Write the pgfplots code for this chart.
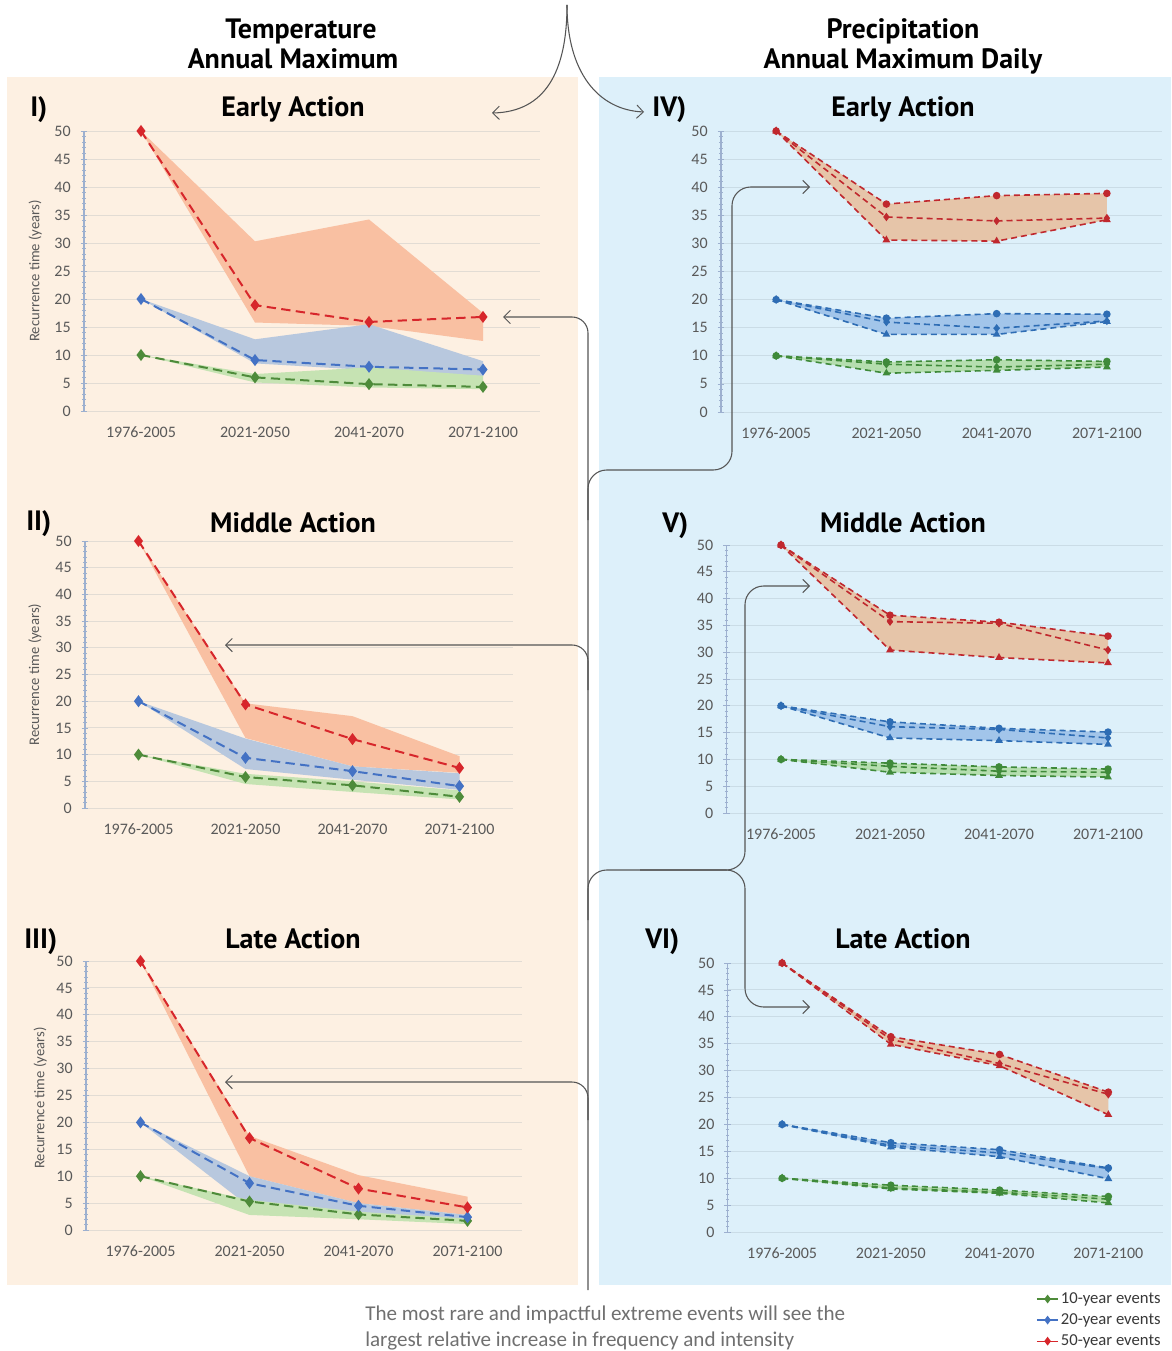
\documentclass[border=0pt]{standalone}
\usepackage{pgfplots}
\pgfplotsset{compat=1.18}
\usepackage{fontspec}
\setmainfont{Carlito}
\newfontfamily\hfont{PT Sans}
\usetikzlibrary{arrows.meta}

\definecolor{peachbg}{HTML}{FDF0E2}
\definecolor{bluebg}{HTML}{DDF0FA}
\definecolor{tickc}{HTML}{595959}
\definecolor{axisc}{HTML}{9DB0CF}
\definecolor{gridT}{HTML}{E2DCD4}
\definecolor{gridP}{HTML}{CADCE6}
\definecolor{tredc}{HTML}{D7262B}
\definecolor{tbluec}{HTML}{4472C4}
\definecolor{tgreenc}{HTML}{4E8B3A}
\definecolor{redfillT}{HTML}{F9C0A2}
\definecolor{bluefillT}{HTML}{B8C8DE}
\definecolor{greenfillT}{HTML}{C6E3B3}
\definecolor{predc}{HTML}{C0282E}
\definecolor{pbluec}{HTML}{2E6DB4}
\definecolor{pgreenc}{HTML}{3F8A3A}
\definecolor{redfillP}{HTML}{E6C5A9}
\definecolor{bluefillP}{HTML}{A2C5EA}
\definecolor{greenfillP}{HTML}{B5DEAF}
\definecolor{arrowc}{HTML}{555555}
\definecolor{legc}{HTML}{383838}
\definecolor{notec}{HTML}{707070}

\pgfplotsset{
  panel/.style={scale only axis, anchor=south west,
    xmin=-0.5, xmax=3.5, ymin=0, ymax=50, clip=false,
    axis lines*=left, x axis line style={draw=none},
    y axis line style={draw=axisc, line width=0.8pt},
    xtick={0,1,2,3}, xticklabels={1976-2005,2021-2050,2041-2070,2071-2100},
    ytick={0,5,...,50}, minor y tick num=4,
    ymajorgrids, major grid style={draw=#1, line width=0.7pt},
    tick align=center, major tick length=5pt, minor tick length=2.5pt,
    tick style={draw=axisc, line width=0.5pt}, xtick style={draw=none},
    tick label style={font=\fontsize{12}{14}\selectfont, text=tickc},
    /pgf/number format/assume math mode=true,
    xticklabel style={yshift=-6pt},
    yticklabel style={xshift=-4pt},
    ylabel style={font=\fontsize{11}{13}\selectfont, text=tickc, anchor=center},
  },
  tline/.style={draw=#1, line width=1.5pt, dash pattern=on 7pt off 4pt,
    mark=diamond*, mark size=3.3pt, mark options={solid, fill=#1, draw=#1}},
  pline/.style n args={2}{draw=#1, line width=1.2pt, dash pattern=on 4.5pt off 3pt,
    mark=#2, mark size=2.2pt, mark options={solid, fill=#1, draw=#1}},
}

\begin{document}
\begin{tikzpicture}
\begin{scope}[x=0.75pt,y=-0.75pt]
\fill[white] (0,0) rectangle (1171,1351);
\fill[peachbg] (7,77) rectangle (578,1285);
\fill[bluebg] (599,77) rectangle (1171,1285);
\tikzset{ttl/.style={font=\hfont\bfseries\fontsize{21}{25}\selectfont, text=black, inner sep=0pt, anchor=base}}
\node[ttl] at (301,39) {Temperature};
\node[ttl] at (293,69) {Annual Maximum};
\node[ttl] at (903,39) {Precipitation};
\node[ttl] at (903,69) {Annual Maximum Daily};
\node[ttl] at (293,117) {Early Action};
\node[ttl] at (293,532) {Middle Action};
\node[ttl] at (293,948) {Late Action};
\node[ttl] at (903,117) {Early Action};
\node[ttl] at (903,532) {Middle Action};
\node[ttl] at (903,948) {Late Action};
\node[ttl, anchor=base west] at (30,117) {I)};
\node[ttl, anchor=base west] at (26,530) {II)};
\node[ttl, anchor=base west] at (24,948) {III)};
\node[ttl, anchor=base west] at (652,117) {IV)};
\node[ttl, anchor=base west] at (662,532) {V)};
\node[ttl, anchor=base west] at (645,948) {VI)};
\end{scope}

% ---------- Panel I ----------
\begin{axis}[panel=gridT, at={(63pt,-308.25pt)}, width=342pt, height=210pt,
  ylabel={Recurrence time (years)}, ylabel style={at={(axis description cs:-0.107,0.5)}}]
\addplot[fill=redfillT, draw=none] coordinates {(0,50)(1,30.3)(2,34.2)(3,17.5)(3,12.5)(2,15.2)(1,15.8)};
\addplot[fill=bluefillT, draw=none] coordinates {(0,20)(1,12.8)(2,15.5)(3,8.9)(3,6.2)(2,7.3)(1,8.5)};
\addplot[fill=greenfillT, draw=none] coordinates {(0,10)(1,6.6)(2,7.8)(3,6.3)(3,3.9)(2,4.2)(1,5.1)};
\addplot[tline=tgreenc] coordinates {(0,10)(1,6.0)(2,4.8)(3,4.3)};
\addplot[tline=tbluec] coordinates {(0,20)(1,9.1)(2,7.9)(3,7.4)};
\addplot[tline=tredc] coordinates {(0,50)(1,18.9)(2,15.9)(3,16.8)};
\end{axis}

% ---------- Panel II ----------
\begin{axis}[panel=gridT, at={(63.75pt,-606pt)}, width=321pt, height=200.25pt,
  ylabel={Recurrence time (years)}, ylabel style={at={(axis description cs:-0.117,0.5)}}]
\addplot[fill=redfillT, draw=none] coordinates {(0,50)(1,19.6)(2,17.2)(3,9.7)(3,6.6)(2,7.8)(1,13.1)};
\addplot[fill=bluefillT, draw=none] coordinates {(0,20)(1,13.0)(2,7.8)(3,6.5)(3,3.4)(2,5.3)(1,7.3)};
\addplot[fill=greenfillT, draw=none] coordinates {(0,10)(1,6.4)(2,5.0)(3,3.3)(3,1.6)(2,3.0)(1,4.5)};
\addplot[tline=tgreenc] coordinates {(0,10)(1,5.8)(2,4.25)(3,2.1)};
\addplot[tline=tbluec] coordinates {(0,20)(1,9.4)(2,6.9)(3,4.1)};
\addplot[tline=tredc] coordinates {(0,50)(1,19.4)(2,12.9)(3,7.5)};
\end{axis}

% ---------- Panel III ----------
\begin{axis}[panel=gridT, at={(64.5pt,-922.5pt)}, width=327pt, height=201.75pt,
  ylabel={Recurrence time (years)}, ylabel style={at={(axis description cs:-0.105,0.49)}}]
\addplot[fill=redfillT, draw=none] coordinates {(0,50)(1,17.5)(2,10.2)(3,6.2)(3,2.8)(2,5.0)(1,10.0)};
\addplot[fill=bluefillT, draw=none] coordinates {(0,20)(1,10.0)(2,5.0)(3,2.8)(3,1.6)(2,3.2)(1,4.3)};
\addplot[fill=greenfillT, draw=none] coordinates {(0,10)(1,5.6)(2,3.4)(3,2.1)(3,1.1)(2,2.0)(1,2.8)};
\addplot[tline=tgreenc] coordinates {(0,10)(1,5.3)(2,2.9)(3,1.7)};
\addplot[tline=tbluec] coordinates {(0,20)(1,8.7)(2,4.5)(3,2.4)};
\addplot[tline=tredc] coordinates {(0,50)(1,17.1)(2,7.7)(3,4.2)};
\end{axis}

% ---------- Panel IV ----------
\begin{axis}[panel=gridP, at={(540.75pt,-309pt)}, width=330.75pt, height=210.75pt]
\addplot[fill=redfillP, draw=none] coordinates {(0,50)(1,37.0)(2,38.5)(3,38.9)(3,34.2)(2,30.4)(1,30.6)};
\addplot[fill=bluefillP, draw=none] coordinates {(0,20)(1,16.7)(2,17.5)(3,17.4)(3,16.1)(2,13.8)(1,13.8)};
\addplot[fill=greenfillP, draw=none] coordinates {(0,10)(1,8.9)(2,9.3)(3,9.0)(3,8.0)(2,7.4)(1,6.9)};
\addplot[pline={pgreenc}{*}] coordinates {(0,10)(1,8.9)(2,9.3)(3,9.0)};
\addplot[pline={pgreenc}{diamond*}] coordinates {(0,10)(1,8.5)(2,8.0)(3,8.5)};
\addplot[pline={pgreenc}{triangle*}] coordinates {(0,10)(1,6.9)(2,7.4)(3,8.0)};
\addplot[pline={pbluec}{*}] coordinates {(0,20)(1,16.7)(2,17.5)(3,17.4)};
\addplot[pline={pbluec}{diamond*}] coordinates {(0,20)(1,16.0)(2,14.9)(3,16.2)};
\addplot[pline={pbluec}{triangle*}] coordinates {(0,20)(1,13.8)(2,13.8)(3,16.1)};
\addplot[pline={predc}{*}] coordinates {(0,50)(1,37.0)(2,38.5)(3,38.9)};
\addplot[pline={predc}{diamond*}] coordinates {(0,50)(1,34.7)(2,34.0)(3,34.5)};
\addplot[pline={predc}{triangle*}] coordinates {(0,50)(1,30.6)(2,30.4)(3,34.2)};
\end{axis}

% ---------- Panel V ----------
\begin{axis}[panel=gridP, at={(544.875pt,-609.75pt)}, width=327pt, height=201pt]
\addplot[fill=redfillP, draw=none] coordinates {(0,50)(1,36.9)(2,35.6)(3,33.0)(3,28.0)(2,29.0)(1,30.4)};
\addplot[fill=bluefillP, draw=none] coordinates {(0,20)(1,17.0)(2,15.8)(3,15.1)(3,12.8)(2,13.5)(1,14.0)};
\addplot[fill=greenfillP, draw=none] coordinates {(0,10)(1,9.3)(2,8.6)(3,8.2)(3,6.7)(2,7.0)(1,7.6)};
\addplot[pline={pgreenc}{*}] coordinates {(0,10)(1,9.3)(2,8.6)(3,8.2)};
\addplot[pline={pgreenc}{diamond*}] coordinates {(0,10)(1,8.7)(2,7.8)(3,7.6)};
\addplot[pline={pgreenc}{triangle*}] coordinates {(0,10)(1,7.6)(2,7.0)(3,6.7)};
\addplot[pline={pbluec}{*}] coordinates {(0,20)(1,17.0)(2,15.8)(3,15.1)};
\addplot[pline={pbluec}{diamond*}] coordinates {(0,20)(1,16.1)(2,15.6)(3,14.0)};
\addplot[pline={pbluec}{triangle*}] coordinates {(0,20)(1,14.0)(2,13.5)(3,12.8)};
\addplot[pline={predc}{*}] coordinates {(0,50)(1,36.9)(2,35.6)(3,33.0)};
\addplot[pline={predc}{diamond*}] coordinates {(0,50)(1,35.7)(2,35.4)(3,30.4)};
\addplot[pline={predc}{triangle*}] coordinates {(0,50)(1,30.4)(2,29.0)(3,28.0)};
\end{axis}

% ---------- Panel VI ----------
\begin{axis}[panel=gridP, at={(545.8pt,-924pt)}, width=326.25pt, height=201.75pt]
\addplot[fill=redfillP, draw=none] coordinates {(0,50)(1,36.3)(2,33.0)(3,26.0)(3,21.8)(2,30.9)(1,34.9)};
\addplot[fill=bluefillP, draw=none] coordinates {(0,20)(1,16.6)(2,15.3)(3,11.9)(3,9.9)(2,14.0)(1,15.8)};
\addplot[fill=greenfillP, draw=none] coordinates {(0,10)(1,8.7)(2,7.8)(3,6.6)(3,5.4)(2,7.2)(1,8.0)};
\addplot[pline={pgreenc}{*}] coordinates {(0,10)(1,8.7)(2,7.8)(3,6.6)};
\addplot[pline={pgreenc}{diamond*}] coordinates {(0,10)(1,8.2)(2,7.4)(3,6.1)};
\addplot[pline={pgreenc}{triangle*}] coordinates {(0,10)(1,8.0)(2,7.2)(3,5.4)};
\addplot[pline={pbluec}{*}] coordinates {(0,20)(1,16.6)(2,15.3)(3,11.9)};
\addplot[pline={pbluec}{diamond*}] coordinates {(0,20)(1,16.1)(2,14.7)(3,11.8)};
\addplot[pline={pbluec}{triangle*}] coordinates {(0,20)(1,15.8)(2,14.0)(3,9.9)};
\addplot[pline={predc}{*}] coordinates {(0,50)(1,36.3)(2,33.0)(3,26.0)};
\addplot[pline={predc}{diamond*}] coordinates {(0,50)(1,35.8)(2,31.3)(3,25.6)};
\addplot[pline={predc}{triangle*}] coordinates {(0,50)(1,34.9)(2,30.9)(3,21.8)};
\end{axis}

% ---------- Legend ----------
\begin{axis}[hide axis, scale only axis, width=10pt, height=10pt,
  xmin=0, xmax=1, ymin=0, ymax=1,
  at={(777pt,-967.75pt)}, anchor=north west,
  legend cell align=left,
  legend style={at={(0,1)}, anchor=north west, draw=none, fill=none,
    font=\fontsize{12.5}{13}\selectfont, text=legc, row sep=3.2pt, inner sep=0pt,
    nodes={inner sep=1.5pt}},
  legend image code/.code={\draw[mark repeat=2,mark phase=2,#1] plot coordinates {(0pt,0pt) (8pt,0pt) (16pt,0pt)};}]
\addlegendimage{draw=tgreenc, line width=1pt, mark=diamond*, mark size=2.5pt, mark options={fill=tgreenc}}
\addlegendentry{10-year events}
\addlegendimage{draw=tbluec, line width=1pt, mark=diamond*, mark size=2.5pt, mark options={fill=tbluec}}
\addlegendentry{20-year events}
\addlegendimage{draw=tredc, line width=1pt, mark=diamond*, mark size=2.5pt, mark options={fill=tredc}}
\addlegendentry{50-year events}
\end{axis}

% ---------- Arrows and note ----------
\begin{scope}[x=0.75pt,y=-0.75pt]
\tikzset{arr/.style={draw=arrowc, line width=0.8pt, -{Straight Barb[length=5pt,width=10pt,line width=0.7pt]}}}
\draw[arr] (567,5) .. controls (567,72) and (545,112) .. (492,113);
\draw[arr] (567,5) .. controls (567,72) and (598,110) .. (644,112);
\draw[arr, rounded corners=12pt] (588,1290) -- (588,317) -- (503,317);
\draw[arr, rounded corners=12pt] (588,690) -- (588,645) -- (225,645);
\draw[arr, rounded corners=12pt] (588,1120) -- (588,1082) -- (225,1082);
\draw[arr, rounded corners=14pt] (588,520) -- (588,470) -- (732,470) -- (732,187) -- (810,187);
\draw[arr, rounded corners=14pt] (588,920) -- (588,870) -- (745,870) -- (745,1007) -- (810,1007);
\draw[arr, rounded corners=14pt] (640,870) -- (745,870) -- (745,586) -- (810,586);
\node[anchor=base west, text=notec, font=\fontsize{15.8}{18}\selectfont, inner sep=0pt] at (365,1320) {The most rare and impactful extreme events will see the};
\node[anchor=base west, text=notec, font=\fontsize{15.8}{18}\selectfont, inner sep=0pt] at (365,1346) {largest relative increase in frequency and intensity};
\pgfresetboundingbox
\path[use as bounding box] (0,0) rectangle (1171,1351);
\end{scope}
\end{tikzpicture}
\end{document}
